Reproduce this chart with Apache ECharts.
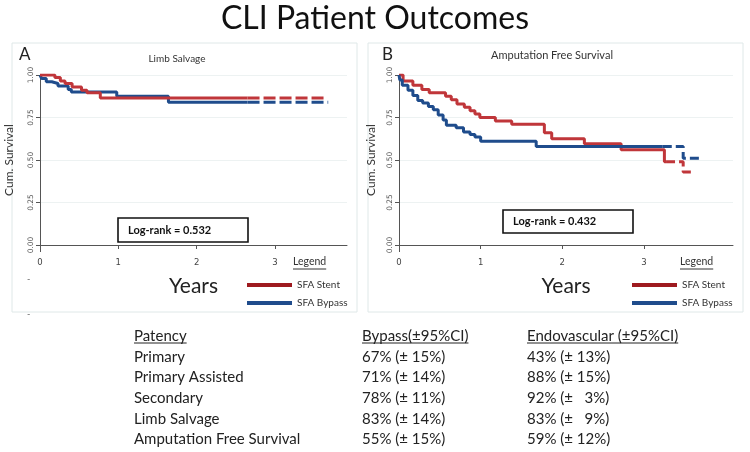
<!DOCTYPE html>
<html>
<head>
<meta charset="utf-8">
<script src="https://cdn.jsdelivr.net/npm/echarts@6/dist/echarts.min.js"></script>
<style>
  html, body { margin: 0; padding: 0; background: #fff; }
  #chart { width: 750px; height: 452px; }
</style>
</head>
<body>
<div id="chart"></div>
<script>
// panel A - limb salvage (years, cumulative survival)
var limbStentT = [0, 0.19, 0.26, 0.32, 0.41, 0.53, 0.6, 0.77, 3.64];
var limbStentS = [1.0, 0.985, 0.965, 0.95, 0.93, 0.91, 0.895, 0.865, 0.865];
var limbBypassT = [0, 0.02, 0.08, 0.15, 0.23, 0.36, 0.4, 0.98, 1.64, 3.68];
var limbBypassS = [1.0, 0.98, 0.96, 0.95, 0.935, 0.915, 0.9, 0.875, 0.84, 0.84];

// panel B - amputation free survival
var afsStentT = [0, 0.05, 0.17, 0.28, 0.37, 0.57, 0.64, 0.71, 0.8, 0.87, 0.93, 0.99, 1.18, 1.38, 1.78, 1.87, 2.27, 2.72, 3.25, 3.48, 3.6];
var afsStentS = [1.0, 0.965, 0.94, 0.915, 0.895, 0.875, 0.855, 0.83, 0.81, 0.79, 0.77, 0.75, 0.73, 0.71, 0.66, 0.625, 0.595, 0.56, 0.49, 0.43, 0.43];
var afsBypassT = [0, 0.01, 0.04, 0.11, 0.17, 0.23, 0.29, 0.36, 0.42, 0.48, 0.54, 0.58, 0.7, 0.79, 0.87, 0.93, 1.0, 1.68, 3.48, 3.7];
var afsBypassS = [1.0, 0.97, 0.94, 0.91, 0.88, 0.85, 0.835, 0.815, 0.795, 0.765, 0.735, 0.705, 0.69, 0.665, 0.65, 0.635, 0.61, 0.58, 0.51, 0.51];

// where the curves switch to dashed (censored tail)
var limbDashFrom = [2.65, 2.65];
var afsDashFrom = [3.27, 3.23];

var xTicks = [0, 1, 2, 3];
var legendNames = ["SFA Stent", "SFA Bypass"];

// table below the charts
var tableHeader = ["Patency", "Bypass(±95%CI)", "Endovascular (±95%CI)"];
var patencyRows = ["Primary", "Primary Assisted", "Secondary", "Limb Salvage", "Amputation Free Survival"];
var bypassCol = ["67% (± 15%)", "71% (± 14%)", "78% (± 11%)", "83% (± 14%)", "55% (± 15%)"];
var endoCol = ["43% (± 13%)", "88% (± 15%)", "92% (±   3%)", "83% (±   9%)", "59% (± 12%)"];

var RED = "#c0363a";
var RED_DARK = "#9e1a1f";
var BLUE = "#1f4c8c";
var FONT = "Lato";

// split a KM curve into solid part and dashed tail
function splitCurve(t, s, from) {
  var solid = [], dashed = [];
  var cur = s[0];
  for (var i = 0; i < t.length; i++) {
    if (t[i] < from) { solid.push([t[i], s[i]]); cur = s[i]; }
  }
  solid.push([from, cur]);
  dashed.push([from, cur]);
  for (var j = 0; j < t.length; j++) {
    if (t[j] > from) dashed.push([t[j], s[j]]);
  }
  return { solid: solid, dashed: dashed };
}

function kmSeries(name, color, t, s, from, idx, dash) {
  var parts = splitCurve(t, s, from);
  var base = {
    name: name,
    type: "line",
    step: "end",
    xAxisIndex: idx,
    yAxisIndex: idx,
    symbol: "none",
    silent: true,
    animation: false,
    color: color
  };
  return [
    Object.assign({}, base, { data: parts.solid, lineStyle: { color: color, width: 3 } }),
    Object.assign({}, base, { data: parts.dashed, lineStyle: { color: color, width: 3, type: dash } })
  ];
}

function textWidth(str, font) {
  var c = document.createElement("canvas").getContext("2d");
  c.font = font;
  return c.measureText(str).width;
}

function xAxisCfg(idx, max) {
  return {
    gridIndex: idx,
    type: "value",
    min: 0,
    max: max,
    offset: 7,
    name: "Years",
    nameLocation: "middle",
    nameGap: 24,
    nameTextStyle: { fontFamily: FONT, fontSize: 21, color: "#222" },
    axisLine: { lineStyle: { color: "#555", width: 1 } },
    axisTick: { show: true, length: 4, customValues: xTicks, lineStyle: { color: "#555" } },
    axisLabel: { fontFamily: "DejaVu Sans", fontSize: 8.5, color: "#444", margin: 6, customValues: xTicks },
    splitLine: { show: false }
  };
}

function yAxisCfg(idx, gap) {
  return {
    gridIndex: idx,
    type: "value",
    min: 0,
    max: 1,
    interval: 0.25,
    name: "Cum. Survival",
    nameLocation: "middle",
    nameRotate: 90,
    nameGap: gap,
    nameTextStyle: { fontFamily: FONT, fontSize: 12, color: "#333" },
    axisLine: { show: true, lineStyle: { color: "#555", width: 1 } },
    axisTick: { show: true, length: 4, lineStyle: { color: "#555" } },
    axisLabel: {
      rotate: 90,
      fontFamily: "DejaVu Sans",
      fontSize: 7.5,
      color: "#555",
      margin: 5,
      formatter: function (v) { return v.toFixed(2); }
    },
    splitLine: { show: true, lineStyle: { color: "#edf2f2", width: 1 } }
  };
}

var series = []
  .concat(kmSeries(legendNames[1], BLUE, limbBypassT, limbBypassS, limbDashFrom[1], 0, [12, 4]))
  .concat(kmSeries(legendNames[0], RED, limbStentT, limbStentS, limbDashFrom[0], 0, [12, 4]))
  .concat(kmSeries(legendNames[0], RED, afsStentT, afsStentS, afsDashFrom[0], 1, [9, 4]))
  .concat(kmSeries(legendNames[1], BLUE, afsBypassT, afsBypassS, afsDashFrom[1], 1, [9, 4]));

function legendCfg(left) {
  return {
    left: left,
    top: 275,
    orient: "vertical",
    icon: "rect",
    itemWidth: 45,
    itemHeight: 4,
    itemGap: 8,
    selectedMode: false,
    textStyle: { fontFamily: FONT, fontSize: 10, color: "#333" },
    data: [
      { name: legendNames[0], itemStyle: { color: RED_DARK } },
      { name: legendNames[1], itemStyle: { color: BLUE } }
    ]
  };
}

// annotations
var graphics = [];
graphics.push({ type: "rect", shape: { x: 12, y: 43, width: 345, height: 269 }, style: { fill: null, stroke: "#dfe8e8", lineWidth: 1 }, z: 0 });
graphics.push({ type: "rect", shape: { x: 368, y: 43, width: 375, height: 269 }, style: { fill: null, stroke: "#dfe8e8", lineWidth: 1 }, z: 0 });
graphics.push({ type: "text", left: "center", top: 3, style: { text: "CLI Patient Outcomes", font: "32px " + FONT, fill: "#111" } });
graphics.push({ type: "text", x: 19, y: 46, style: { text: "A", font: "17px " + FONT, fill: "#222" } });
graphics.push({ type: "text", x: 382, y: 46, style: { text: "B", font: "17px " + FONT, fill: "#222" } });
graphics.push({ type: "text", x: 177, y: 59, style: { text: "Limb Salvage", font: "10px " + FONT, fill: "#333", align: "center", verticalAlign: "middle" } });
graphics.push({ type: "text", x: 552, y: 55, style: { text: "Amputation Free Survival", font: "11px " + FONT, fill: "#333", align: "center", verticalAlign: "middle" } });
// y-axis lines reach down to the offset x-axis
graphics.push({ type: "line", shape: { x1: 40.5, y1: 245, x2: 40.5, y2: 252 }, style: { stroke: "#555", lineWidth: 1 } });
graphics.push({ type: "line", shape: { x1: 399.5, y1: 245, x2: 399.5, y2: 252 }, style: { stroke: "#555", lineWidth: 1 } });

function logRankBox(x, y, w, h, label) {
  graphics.push({ type: "rect", shape: { x: x, y: y, width: w, height: h }, style: { fill: "#fff", stroke: "#111", lineWidth: 1.6 }, z: 5 });
  graphics.push({ type: "text", x: x + 10, y: y + h / 2, style: { text: label, font: "bold 11px " + FONT, fill: "#111", verticalAlign: "middle" }, z: 6 });
}
logRankBox(118, 218, 130, 24, "Log-rank = 0.532");
logRankBox(503, 210, 130, 23, "Log-rank = 0.432");

function underlined(x, y, str, font, color) {
  var w = textWidth(str, font);
  graphics.push({ type: "text", x: x, y: y, style: { text: str, font: font, fill: color, verticalAlign: "middle" } });
  graphics.push({ type: "line", shape: { x1: x, y1: y + 7, x2: x + w, y2: y + 7 }, style: { stroke: color, lineWidth: 1 } });
}
underlined(293, 262, "Legend", "10.5px " + FONT, "#333");
underlined(680, 262, "Legend", "10.5px " + FONT, "#333");

graphics.push({ type: "text", x: 27, y: 279, style: { text: "-", font: "9px " + FONT, fill: "#666", verticalAlign: "middle" } });
graphics.push({ type: "text", x: 27, y: 314, style: { text: "-", font: "9px " + FONT, fill: "#666", verticalAlign: "middle" } });

var colX = [134, 362, 527];
var rowY = [336, 357, 377, 398, 419, 439];
var tFont = "15px " + FONT;
for (var c = 0; c < tableHeader.length; c++) {
  underlined(colX[c], rowY[0], tableHeader[c], tFont, "#222");
}
for (var r = 0; r < patencyRows.length; r++) {
  var cells = [patencyRows[r], bypassCol[r], endoCol[r]];
  for (var k = 0; k < 3; k++) {
    graphics.push({ type: "text", x: colX[k], y: rowY[r + 1], style: { text: cells[k], font: tFont, fill: "#222", verticalAlign: "middle" } });
  }
}

var chart = echarts.init(document.getElementById("chart"));
chart.setOption({
  animation: false,
  backgroundColor: "#fff",
  grid: [
    { left: 40, right: 403, top: 75, bottom: 207, containLabel: false, outerBoundsMode: "none" },
    { left: 399, right: 17, top: 75, bottom: 207, containLabel: false, outerBoundsMode: "none" }
  ],
  xAxis: [xAxisCfg(0, 3.92), xAxisCfg(1, 4.09)],
  yAxis: [yAxisCfg(0, 25), yAxisCfg(1, 22)],
  legend: [legendCfg(242), legendCfg(627)],
  series: series,
  graphic: graphics
});
</script>
</body>
</html>
